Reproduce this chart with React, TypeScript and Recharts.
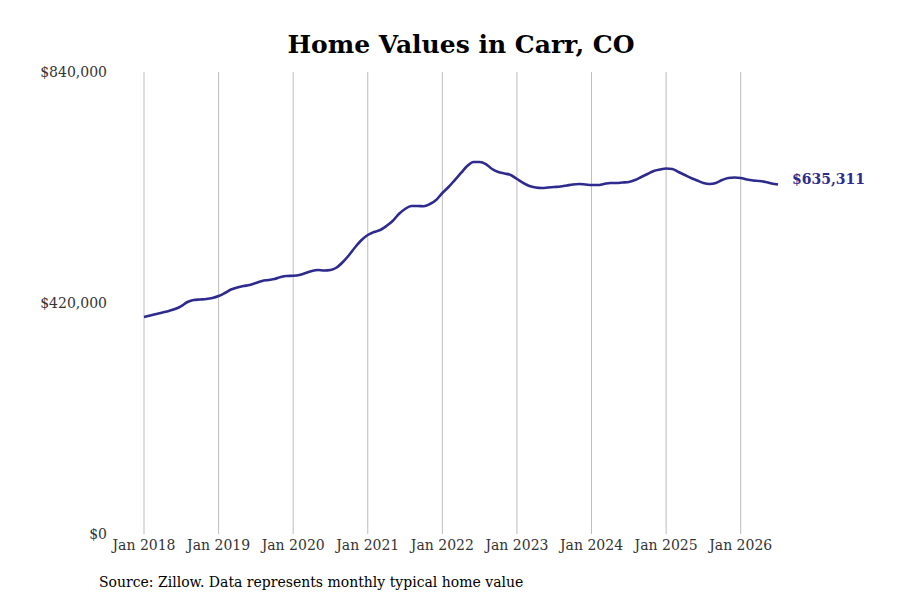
import { LineChart, Line, XAxis, YAxis, ReferenceLine } from 'recharts';

// Typical home value, monthly from Jan 2018 to Jul 2026
const homeValues = [
  394500, 397300, 400000, 402700, 405500, 409100, 414500, 421800, 425500, 426400, 427300, 429100,
  432700, 438200, 444500, 448200, 450900, 452700, 456400, 460000, 461800, 463600, 467300, 469100,
  469500, 470900, 474500, 478200, 480000, 479100, 480000, 484500, 494500, 507300, 521800, 534500,
  543600, 549100, 552700, 560000, 569100, 581800, 590900, 596400, 596400, 596000, 600000, 607300,
  620000, 630900, 643600, 656400, 669100, 676400, 676400, 672700, 663600, 658200, 655500, 652700,
  645500, 638200, 632700, 630000, 629100, 630000, 630900, 631800, 633600, 635500, 636400, 635500,
  634500, 634500, 636400, 638200, 638200, 639100, 640000, 643600, 649100, 654500, 660000, 662700,
  664500, 663600, 658200, 652700, 647300, 642700, 638200, 636400, 638200, 643600, 647300, 648200,
  647300, 644500, 642700, 641800, 640000, 637300, 635311,
];

const yearTicks = [0, 12, 24, 36, 48, 60, 72, 84, 96];
const yearLabels = [
  'Jan 2018', 'Jan 2019', 'Jan 2020', 'Jan 2021', 'Jan 2022',
  'Jan 2023', 'Jan 2024', 'Jan 2025', 'Jan 2026',
];
const valueTicks = [0, 420000, 840000];

const LINE_COLOR = '#2f2b8e';
const FONT = '"DejaVu Serif", serif';

const data = homeValues.map((value, month) => ({ month, value }));

const fmtMoney = (v: number) => '$' + v.toLocaleString('en-US');

const LastLabel = (props: any) => {
  const { x, y, index, value } = props;
  if (index !== homeValues.length - 1) return null;
  return (
    <text
      x={x + 14}
      y={y - 5}
      dominantBaseline="middle"
      fill={LINE_COLOR}
      fontFamily={FONT}
      fontSize={14}
      fontWeight="bold"
    >
      {fmtMoney(value)}
    </text>
  );
};

export default function App() {
  return (
    <div style={{ position: 'relative', width: 900, height: 600, background: '#fff', fontFamily: FONT }}>
      <style>{'body{margin:0}'}</style>
      <div
        style={{
          position: 'absolute', top: 30, left: 0, width: 922, textAlign: 'center',
          fontSize: 25, fontWeight: 'bold', color: '#000',
        }}
      >
        Home Values in Carr, CO
      </div>
      <LineChart
        width={900}
        height={600}
        data={data}
        margin={{ top: 72, right: 122, bottom: 36, left: 84 }}
      >
        {yearTicks.map((t) => (
          <ReferenceLine key={t} x={t} stroke="#bdbdbd" strokeWidth={1} />
        ))}
        <XAxis
          dataKey="month"
          type="number"
          domain={[0, homeValues.length - 1]}
          ticks={yearTicks}
          tickFormatter={(m: number) => yearLabels[m / 12]}
          axisLine={false}
          tickLine={false}
          tickSize={0}
          tickMargin={6}
          height={30}
          tick={{ fill: '#333', fontSize: 14, fontFamily: FONT }}
        />
        <YAxis
          domain={[0, 840000]}
          ticks={valueTicks}
          tickFormatter={fmtMoney}
          axisLine={false}
          tickLine={false}
          tickSize={0}
          tickMargin={37}
          width={60}
          tick={{ fill: '#333', fontSize: 14, fontFamily: FONT }}
        />
        <Line
          type="monotone"
          dataKey="value"
          stroke={LINE_COLOR}
          strokeWidth={2.6}
          dot={false}
          isAnimationActive={false}
          label={<LastLabel />}
        />
      </LineChart>
      <div style={{ position: 'absolute', top: 574, left: 99, fontSize: 14, color: '#000' }}>
        Source: Zillow. Data represents monthly typical home value
      </div>
    </div>
  );
}
